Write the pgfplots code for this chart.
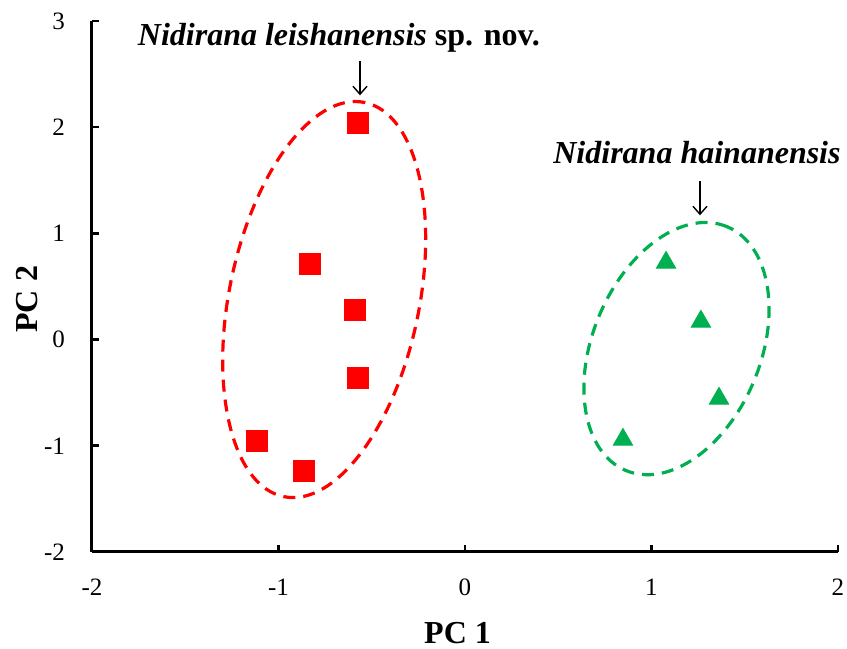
\documentclass[border=0pt]{standalone}
\usepackage{pgfplots}
\pgfplotsset{compat=1.18}
\usepackage{fontspec}
\setmainfont{Liberation Serif}
\usetikzlibrary{arrows.meta}
\definecolor{pgreen}{RGB}{0,176,80}
\begin{document}
\begin{tikzpicture}
\begin{axis}[
  scale only axis,
  width=373pt, height=265.5pt,
  xmin=-2, xmax=2, ymin=-2, ymax=3,
  axis x line*=bottom, axis y line*=left,
  axis line style={line width=1.5pt, black},
  tick style={line width=1.3pt, black},
  major tick length=3.5pt,
  tick align=inside,
  xtick={-2,-1,0,1,2}, xticklabels={-2,-1,0,1,2},
  ytick={-2,-1,0,1,2,3}, yticklabels={-2,-1,0,1,2,3},
  ticklabel style={font=\fontsize{12.5}{14}\selectfont},
  xticklabel style={yshift=-10pt},
  yticklabel style={xshift=-10pt},
  xlabel={\textbf{PC 1}}, ylabel={\textbf{PC 2}},
  label style={font=\fontsize{16}{18}\selectfont},
  xlabel style={at={(rel axis cs:0.49,0)}, anchor=center, yshift=-40.5pt},
  ylabel style={at={(rel axis cs:0,0.476)}, anchor=center, yshift=32.5pt},
  clip=false,
]
\addplot[only marks, mark=square*, mark size=5.2pt, color=red]
  coordinates {(-0.574,2.043) (-0.831,0.716) (-0.590,0.282) (-0.574,-0.358) (-1.115,-0.951) (-0.863,-1.234)};
\addplot[only marks, mark=triangle*, mark size=5.6pt, color=pgreen]
  coordinates {(1.078,0.725) (1.265,0.170) (1.362,-0.555) (0.847,-0.942)};
\draw[red, line width=1.6pt, dash pattern=on 6pt off 4pt, rotate around={78.4:(axis cs:-0.755,0.377)}]
  (axis cs:-0.755,0.377) ellipse [x radius=100.6pt, y radius=47.5pt];
\draw[pgreen, line width=1.6pt, dash pattern=on 6pt off 4pt, rotate around={67.5:(axis cs:1.134,-0.085)}]
  (axis cs:1.134,-0.085) ellipse [x radius=66pt, y radius=42pt];
\draw[-{Straight Barb[length=4pt,width=7pt]}, line width=0.7pt] (axis cs:-0.563,2.62) -- (axis cs:-0.563,2.30);
\draw[-{Straight Barb[length=4pt,width=7pt]}, line width=0.7pt] (axis cs:1.26,1.49) -- (axis cs:1.26,1.17);
\node[anchor=base, font=\fontsize{16}{18}\selectfont\bfseries, inner sep=0pt] at (axis cs:-0.676,2.77) {\textit{Nidirana leishanensis} sp. nov.};
\node[anchor=base, font=\fontsize{16}{18}\selectfont\bfseries, inner sep=0pt] at (axis cs:1.244,1.657) {\textit{Nidirana hainanensis}};
\coordinate (bl) at (rel axis cs:0,0);
\coordinate (tr) at (rel axis cs:1,1);
\end{axis}
\pgfresetboundingbox
\path ([shift={(-46pt,-48.5pt)}]bl) rectangle ([shift={(4.5pt,10.5pt)}]tr);
\end{tikzpicture}
\end{document}
